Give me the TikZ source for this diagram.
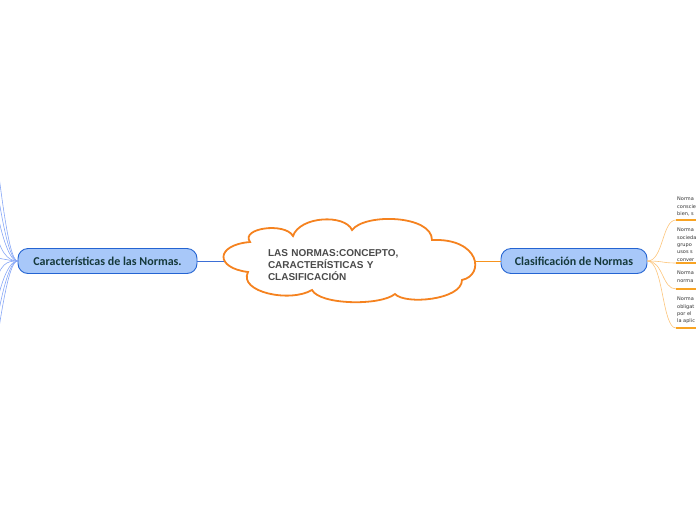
\documentclass[tikz,border=0pt]{standalone}
\usepackage{fontspec}
\setmainfont{Liberation Sans}
\newfontfamily\topicfont{Carlito}
\newfontfamily\leaffont{DejaVu Sans}
\definecolor{cloudline}{HTML}{F5821F}
\definecolor{cloudtext}{HTML}{4A4A4A}
\definecolor{topicfill}{HTML}{A8C8F9}
\definecolor{topicline}{HTML}{2464D2}
\definecolor{topictext}{HTML}{15393B}
\definecolor{blueline}{HTML}{3D6FD6}
\definecolor{bluecurve}{HTML}{86A6F6}
\definecolor{orangeline}{HTML}{F7931E}
\definecolor{orangecurve}{HTML}{FCC47A}
\definecolor{underline}{HTML}{F8A323}
\definecolor{leaftext}{HTML}{333333}

\begin{document}
\begin{tikzpicture}[x=1pt,y=-1pt,
  topic/.style={draw=topicline,fill=topicfill,line width=0.9pt,rounded corners=10pt,
    text=topictext,font=\topicfont\fontsize{12}{14}\selectfont\bfseries,minimum height=25pt},
  leaf/.style={anchor=north west,align=left,inner sep=0pt,text=leaftext,
    font=\leaffont\fontsize{5}{7.3}\selectfont},
  leftcurve/.style={bluecurve,line width=0.6pt},
  rightcurve/.style={orangecurve,line width=0.6pt},
  leafline/.style={underline,line width=2pt}]
  \clip (0,0) rectangle (696,520);

  % Central idea (cloud)
  \draw[cloudline,fill=white,line width=1.8pt]
    (250,242) .. controls (240,228) and (285,222) .. (293,236)
    .. controls (300,216) and (345,214) .. (352,230)
    .. controls (365,213) and (432,215) .. (432,240)
    .. controls (480,238) and (485,275) .. (462,280)
    .. controls (462,300) and (405,305) .. (395,294)
    .. controls (380,306) and (320,305) .. (312,290)
    .. controls (290,303) and (238,292) .. (248,272)
    .. controls (215,268) and (215,245) .. (250,242) -- cycle;
  \node[text width=168pt,align=left,text=cloudtext,inner sep=0pt,
    font=\fontsize{10}{12}\selectfont\bfseries] (central) at (352,265)
    {LAS NORMAS:CONCEPTO,\\CARACTERÍSTICAS Y\\CLASIFICACIÓN};
  \coordinate (cloudw) at (224,261);
  \coordinate (cloude) at (474,261);

  % Main topics
  \node[topic,minimum width=179pt] (carac) at (107.5,261) {Características de las Normas.};
  \node[topic,minimum width=146pt] (clasif) at (574,261) {Clasificación de Normas};

  \draw[blueline,line width=0.8pt] (carac.east) -- (cloudw);
  \draw[orangeline,line width=0.8pt] (cloude) -- (clasif.west);

  % Subtopics of the left branch (outside the page)
  \foreach \y [count=\i] in {140,170,195,222,258,292,318,338,360}
    \coordinate (l\i) at (-6,\y);
  \foreach \i in {1,2,3,4}
    \draw[leftcurve] (carac.west) .. controls +(-10,0) and +(5,30) .. (l\i);
  \draw[leftcurve] (carac.west) .. controls +(-8,0) and +(8,0) .. (l5);
  \foreach \i in {6,7,8,9}
    \draw[leftcurve] (carac.west) .. controls +(-10,0) and +(5,-30) .. (l\i);

  % Subtopics of the right branch
  \node[leaf] (n1) at (677,197) {Norma\\conscie\\bien, s};
  \node[leaf] (n2) at (677,228) {Norma\\socieda\\grupo\\usos s\\conver};
  \node[leaf] (n3) at (677,271) {Norma\\norma};
  \node[leaf] (n4) at (677,297) {Norma\\obligat\\por el\\la aplic};

  \foreach \i/\y in {1/220,2/263,3/289,4/328}{
    \coordinate (c\i) at (676,\y);
    \coordinate (e\i) at (700,\y);
    \draw[rightcurve] (clasif.east) .. controls +(16,0) and +(-14,0) .. (c\i);
    \draw[leafline] (c\i) -- (e\i);
  }
\end{tikzpicture}
\end{document}
